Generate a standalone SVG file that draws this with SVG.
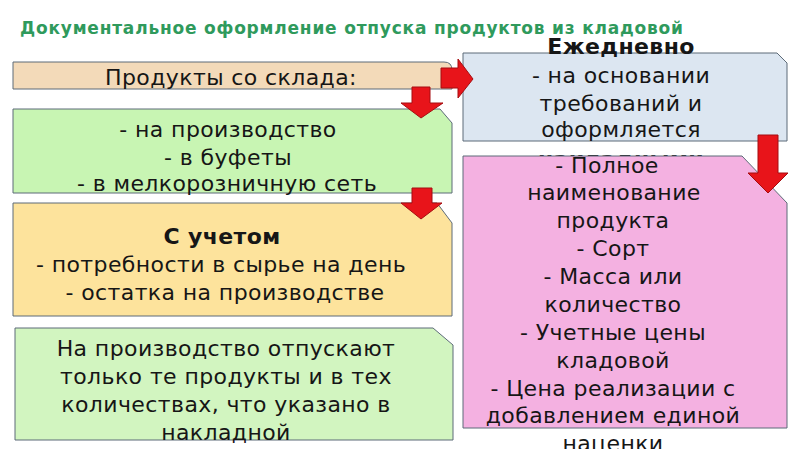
<svg xmlns="http://www.w3.org/2000/svg" width="800" height="449" viewBox="0 0 800 449">
<style>
.box{stroke:#5d6b78;stroke-width:1}
.t{font-family:"DejaVu Sans",Verdana,sans-serif;font-size:22px;letter-spacing:0.4px;fill:#161616;text-anchor:middle}
.b{font-weight:bold}
.title{font-family:"DejaVu Sans",Verdana,sans-serif;font-size:17px;font-weight:bold;fill:#2f9a5c}
.arrow{fill:#e8141a;stroke:#a50d10;stroke-width:1}
</style>
<rect width="800" height="449" fill="#ffffff"/>
<text class="title" x="20" y="34" textLength="663" lengthAdjust="spacing">Документальное оформление отпуска продуктов из кладовой</text>

<g id="node-sklad">
<path class="box" fill="#f3dab9" d="M13,62 H444 Q452,62 452,70 V89 H13 Z"/>
<text class="t" x="231" y="85">Продукты со склада:</text>
</g>

<g id="node-kuda">
<path class="box" fill="#c8f5b3" d="M13,109 H440 L452,123 V193 H13 Z"/>
<text class="t" x="228" y="137">- на производство</text>
<text class="t" x="228" y="165">- в буфеты</text>
<text class="t" x="227" y="191">- в мелкорозничную сеть</text>
</g>

<g id="node-uchet">
<path class="box" fill="#fde39c" d="M13,203 H437 L452,223 V316 H13 Z"/>
<text class="t b" x="222" y="244">С учетом</text>
<text class="t" x="221" y="272">- потребности в сырье на день</text>
<text class="t" x="225" y="300">- остатка на производстве</text>
</g>

<g id="node-otpusk">
<path class="box" fill="#d2f5c0" d="M15,328 H433 L453,345 V440 H15 Z"/>
<text class="t" x="226" y="356">На производство отпускают</text>
<text class="t" x="226" y="384">только те продукты и в тех</text>
<text class="t" x="226" y="412">количествах, что указано в</text>
<text class="t" x="226" y="440">накладной</text>
</g>

<g id="node-ezhednevno">
<path class="box" fill="#dce6f1" d="M463,53 H777 L787,63 V141 H463 Z"/>
<text class="t b" x="621" y="54">Ежедневно</text>
<text class="t" x="621" y="83">- на основании</text>
<text class="t" x="621" y="111">требований и</text>
<text class="t" x="621" y="137">оформляется</text>
<text class="t b" x="621" y="167">накладными</text>
</g>

<g id="node-rekvizity">
<path class="box" fill="#f4b1e1" d="M463,156 H742 L787,203 V428 H463 Z"/>
<text class="t" x="607" y="173">- Полное</text>
<text class="t" x="614" y="200">наименование</text>
<text class="t" x="613" y="228">продукта</text>
<text class="t" x="613" y="256">- Сорт</text>
<text class="t" x="613" y="284">- Масса или</text>
<text class="t" x="613" y="312">количество</text>
<text class="t" x="613" y="340">- Учетные цены</text>
<text class="t" x="613" y="368">кладовой</text>
<text class="t" x="613" y="396">- Цена реализации с</text>
<text class="t" x="613" y="423">добавлением единой</text>
<text class="t" x="613" y="451">наценки</text>
</g>

<g id="connectors">
<polygon class="arrow" points="441,68 458,68 458,59 473,79 458,98 458,88 441,88"/>
<polygon class="arrow" points="412,87 430,87 430,103 443,103 421,118 401,103 412,103"/>
<polygon class="arrow" points="412,188 432,188 432,203 442,203 421,219 401,203 412,203"/>
<polygon class="arrow" points="758,135 778,135 778,173 788,173 768,193 748,173 758,173"/>
</g>
</svg>
